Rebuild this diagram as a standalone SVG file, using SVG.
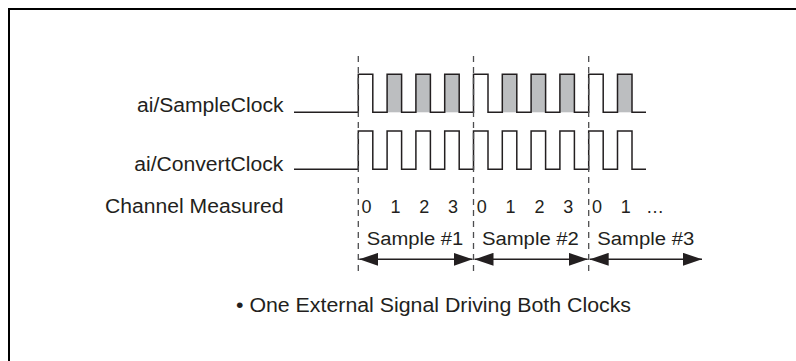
<svg xmlns="http://www.w3.org/2000/svg" width="796" height="361" viewBox="0 0 796 361">
<defs>
<style>
text{font-family:"Liberation Sans",Arial,Helvetica,sans-serif;fill:#231f20}
.lbl{font-size:19.5px}
.sm{font-size:18px}
.num{font-size:18px;text-anchor:middle}
.wave{fill:none;stroke:#231f20;stroke-width:1.5;stroke-linejoin:miter}
.shade{fill:#bcbec0;stroke:none}
.div{stroke:#4d4d4f;stroke-width:1.3;stroke-dasharray:6 5;fill:none}
.arr{stroke:#231f20;stroke-width:1.5;fill:none;marker-start:url(#ah);marker-end:url(#ah)}
</style>
<marker id="ah" markerUnits="userSpaceOnUse" markerWidth="19" markerHeight="13" viewBox="0 0 19 13" refX="19" refY="6.5" orient="auto-start-reverse">
<path d="M0,0 L19,6.5 L0,13 Z" fill="#231f20"/>
</marker>
</defs>
<g id="frame">
<path d="M796,9 H9 V361" fill="none" stroke="#000" stroke-width="2"/>
</g>
<g id="labels">
<text class="lbl" x="137" y="111.5" textLength="146.5" lengthAdjust="spacingAndGlyphs">ai/SampleClock</text>
<text class="lbl" x="134.3" y="170.5" textLength="149" lengthAdjust="spacingAndGlyphs">ai/ConvertClock</text>
<text class="lbl" x="105" y="213" textLength="178.5" lengthAdjust="spacingAndGlyphs">Channel Measured</text>
</g>
<g id="sample-clock">
<rect class="shade" x="387.1" y="74.3" width="14.5" height="38"/>
<rect class="shade" x="415.9" y="74.3" width="14.5" height="38"/>
<rect class="shade" x="444.7" y="74.3" width="14.5" height="38"/>
<rect class="shade" x="502.3" y="74.3" width="14.5" height="38"/>
<rect class="shade" x="531.1" y="74.3" width="14.5" height="38"/>
<rect class="shade" x="559.9" y="74.3" width="14.5" height="38"/>
<rect class="shade" x="617.5" y="74.3" width="14.5" height="38"/>
<path class="wave" d="M294,112.3 H358.3 V74.3 H372.8 V112.3 H387.1 V74.3 H401.6 V112.3 H415.9 V74.3 H430.4 V112.3 H444.7 V74.3 H459.2 V112.3 H473.5 V74.3 H488 V112.3 H502.3 V74.3 H516.8 V112.3 H531.1 V74.3 H545.6 V112.3 H559.9 V74.3 H574.4 V112.3 H588.7 V74.3 H603.2 V112.3 H617.5 V74.3 H632 V112.3 H646"/>
</g>
<g id="convert-clock">
<path class="wave" d="M294,169.3 H358.3 V131 H372.8 V169.3 H387.1 V131 H401.6 V169.3 H415.9 V131 H430.4 V169.3 H444.7 V131 H459.2 V169.3 H473.5 V131 H488 V169.3 H502.3 V131 H516.8 V169.3 H531.1 V131 H545.6 V169.3 H559.9 V131 H574.4 V169.3 H588.7 V131 H603.2 V169.3 H617.5 V131 H632 V169.3 H646"/>
</g>
<g id="dividers">
<line class="div" x1="358.3" y1="56" x2="358.3" y2="276"/>
<line class="div" x1="473.5" y1="56" x2="473.5" y2="276"/>
<line class="div" x1="588.7" y1="56" x2="588.7" y2="276"/>
</g>
<g id="channels">
<text class="num" x="366.6" y="213">0</text>
<text class="num" x="395.4" y="213">1</text>
<text class="num" x="424.2" y="213">2</text>
<text class="num" x="453" y="213">3</text>
<text class="num" x="481.8" y="213">0</text>
<text class="num" x="510.6" y="213">1</text>
<text class="num" x="539.4" y="213">2</text>
<text class="num" x="568.2" y="213">3</text>
<text class="num" x="597" y="213">0</text>
<text class="num" x="625.8" y="213">1</text>
<text class="num" x="655" y="213">…</text>
</g>
<g id="sample-1">
<text class="sm" x="366.7" y="245" textLength="96.6" lengthAdjust="spacingAndGlyphs">Sample #1</text>
</g>
<g id="sample-2">
<text class="sm" x="481.9" y="245" textLength="97" lengthAdjust="spacingAndGlyphs">Sample #2</text>
</g>
<g id="sample-3">
<text class="sm" x="597.3" y="245" textLength="97" lengthAdjust="spacingAndGlyphs">Sample #3</text>
</g>
<g id="connectors">
<line class="arr" x1="359.3" y1="259.3" x2="472.5" y2="259.3"/>
<line class="arr" x1="474.5" y1="259.3" x2="587.7" y2="259.3"/>
<line class="arr" x1="589.7" y1="259.3" x2="702" y2="259.3"/>
</g>
<g id="note">
<text class="lbl" x="236" y="311.7" textLength="395" lengthAdjust="spacingAndGlyphs">• One External Signal Driving Both Clocks</text>
</g>
</svg>
